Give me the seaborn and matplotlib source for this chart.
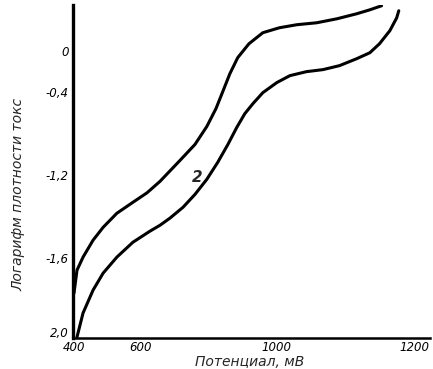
import numpy as np
import pandas as pd
import matplotlib
matplotlib.use("Agg")
import matplotlib.pyplot as plt
import matplotlib.transforms as mtransforms
import seaborn as sns

# ---- data ----
curve1_x = [400, 409, 427, 457, 487, 528, 576, 618, 656, 715, 759, 794, 821, 841, 862, 885, 918, 959,
            1004, 1029, 1058, 1087, 1116, 1135, 1152]
curve1_y = [-1.775, -1.66, -1.595, -1.513, -1.451, -1.383, -1.330, -1.284, -1.229, -1.057, -0.905,
            -0.733, -0.562, -0.400, -0.224, -0.068, 0.067, 0.174, 0.222, 0.251, 0.270, 0.308, 0.357,
            0.395, 0.434]
curve2_x = [409, 427, 457, 487, 528, 576, 626, 656, 685, 724, 759, 794, 826, 856, 882, 906, 930, 959,
            1000, 1019, 1043, 1067, 1091, 1116, 1135, 1149, 1164, 1174, 1177]
curve2_y = [-1.995, -1.875, -1.76, -1.675, -1.595, -1.523, -1.470, -1.441, -1.407, -1.354, -1.292,
            -1.219, -1.076, -0.905, -0.743, -0.610, -0.514, -0.410, -0.312, -0.244, -0.205, -0.185,
            -0.146, -0.078, -0.020, 0.067, 0.193, 0.318, 0.386]

x_ticks = [400, 600, 1000, 1200]
x_tick_labels = ["400", "600", "1000", "1200"]
y_ticks = [0, -0.4, -1.2, -1.6, -2.0]
y_tick_labels = ["0", "-0,4", "-1,2", "-1,6", "2,0"]

df = pd.concat([
    pd.DataFrame({"x": curve1_x, "y": curve1_y, "curve": "1"}),
    pd.DataFrame({"x": curve2_x, "y": curve2_y, "curve": "2"}),
])

# non-uniform axis scales of the original drawing (tick value -> drawing position)
xk_val = [200, 400, 600, 1000, 1200, 1400]
xk_pos = [8, 74, 141, 277, 415, 553]
yk_val = [-2.4, -2.0, -1.6, -1.2, -0.4, 0.0, 0.8]
yk_pos = [-418, -338, -258, -175, -91, -50, 33]

def xf(v):
    return np.interp(v, xk_val, xk_pos)
def xi(p):
    return np.interp(p, xk_pos, xk_val)
def yf(v):
    return np.interp(v, yk_val, yk_pos)
def yi(p):
    return np.interp(p, yk_pos, yk_val)

sns.set_style("white")
plt.rcParams["font.family"] = ["DejaVu Sans"]

fig = plt.figure(figsize=(4.33, 3.69), dpi=100)
ax = fig.add_axes([0.1686, 0.084, 0.824, 0.902])

sns.lineplot(data=df, x="x", y="y", units="curve", estimator=None, sort=False,
             color="black", linewidth=2.2, ax=ax, legend=False,
             solid_joinstyle="round", solid_capstyle="round")

ax.set_xscale("function", functions=(xf, xi))
ax.set_yscale("function", functions=(yf, yi))
ax.set_xlim(397, 1222)
ax.set_ylim(-2.0, 0.44)

ax.set_xticks(x_ticks)
ax.set_xticklabels(x_tick_labels, fontstyle="italic", fontsize=8.5)
ax.set_yticks(y_ticks)
ax.set_yticklabels(y_tick_labels, fontstyle="italic", fontsize=8.5)
ax.minorticks_off()
ax.tick_params(axis="y", direction="in", length=10, width=1.2, pad=3, colors="black")
ax.tick_params(axis="x", direction="in", length=5, width=1.2, pad=2, colors="black")

# lift the bottom y tick label slightly so it sits above the "400" label
bottom_lbl = ax.get_yticklabels()[-1]
bottom_lbl.set_transform(bottom_lbl.get_transform() +
                         mtransforms.ScaledTranslation(0, 4 / 72, fig.dpi_scale_trans))

for s in ["top", "right"]:
    ax.spines[s].set_visible(False)
ax.spines["left"].set_linewidth(2.4)
ax.spines["bottom"].set_linewidth(1.8)
for s in ["left", "bottom"]:
    ax.spines[s].set_color("black")

ax.set_xlabel("Потенциал, мВ", fontstyle="italic", fontsize=10, va="center")
ax.xaxis.set_label_coords(0.496, -0.073)
ax.set_ylabel("Логарифм плотности токс", fontstyle="italic", fontsize=10)
ax.yaxis.set_label_coords(-0.134, 0.432)

ax.text(765, -1.21, "2", fontstyle="italic", fontweight="bold", fontsize=11,
        ha="center", va="center")

fig.savefig("out.png", dpi=100)
